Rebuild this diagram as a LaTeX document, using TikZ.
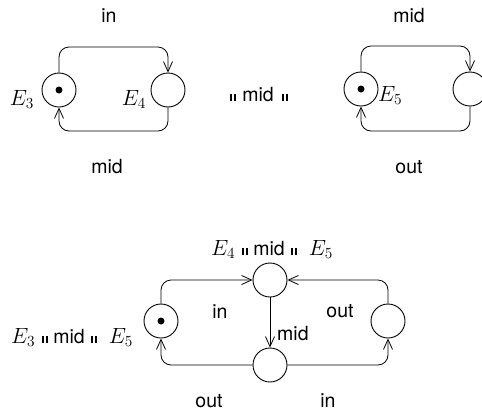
\RequirePackage{fix-cm}
\documentclass[tikz,border=0pt]{standalone}
\usepackage{fontspec}
\setmainfont{TeX Gyre Heros}
\usetikzlibrary{arrows.meta}
\newcommand\pbar{\rule{1.9pt}{7pt}\hspace{2.4pt}\rule{1.9pt}{7pt}}
\newcommand\Ename[1]{{\fontsize{22}{24}\selectfont$E_{#1}$}}
\tikzset{
  st/.style={circle,draw,line width=0.9pt,minimum size=34pt,inner sep=0pt},
  tok/.style={circle,fill,minimum size=7pt,inner sep=0pt},
  lbl/.style={font=\fontsize{19.5}{22}\selectfont,inner sep=0pt,anchor=base},
  edge/.style={line width=0.8pt,rounded corners=10pt,-{Straight Barb[length=10pt,width=9pt,line width=0.8pt]}},
  tedge/.style={line width=0.8pt,-{Straight Barb[length=10pt,width=9pt,line width=0.8pt]}}
}
\begin{document}
\begin{tikzpicture}[x=1pt,y=-1pt]
\useasboundingbox (0,0) rectangle (482,413);
% top left net
\node[st] (e3) at (59,90) {};
\node[tok] (t3) at (59,90) {};
\node[st] (e4) at (168,90) {};
\coordinate (c1) at (110,47);
\coordinate (c2) at (110,131);
\draw[edge] (e3.north) |- (c1) -| (e4.north);
\draw[edge] (e4.south) |- (c2) -| (e3.south);
\node[lbl] (l1) at (109,22) {in};
\node[lbl] (l2) at (107,173) {mid};
\node[lbl,anchor=base east] (l3) at (34,105) {\Ename{3}};
\node[lbl,anchor=base east] (l4) at (146,105) {\Ename{4}};
% operator
\node[lbl] (op) at (259,101) {\pbar\hspace{6pt}mid\hspace{8pt}\pbar};
% top right net
\node[st] (e5) at (361,89) {};
\node[tok] (t5) at (361,89) {};
\node[st] (e6) at (470,89) {};
\coordinate (c3) at (415,46);
\coordinate (c4) at (415,131);
\draw[edge] (e5.north) |- (c3) -| (e6.north);
\draw[edge] (e6.south) |- (c4) -| (e5.south);
\node[lbl] (l5) at (409,22) {mid};
\node[lbl] (l6) at (409,173) {out};
\node[lbl,anchor=base west] (l7) at (378,101) {\Ename{5}};
% bottom net
\node[st] (b1) at (161,321) {};
\node[tok] (tb) at (161,321) {};
\node[st] (b2) at (270,280) {};
\node[st] (b3) at (270,365) {};
\node[st] (b4) at (388,321) {};
\draw[edge] (b1.north) |- (b2.west);
\draw[edge] (b4.north) |- (b2.east);
\draw[tedge] (b2.south) -- (b3.north);
\draw[edge] (b3.west) -| (b1.south);
\draw[edge] (b3.east) -| (b4.south);
\node[lbl] (m1) at (220,318) {in};
\node[lbl] (m2) at (340,317) {out};
\node[lbl,anchor=base west] (m3) at (277,340) {mid};
\node[lbl] (m4) at (209,407) {out};
\node[lbl] (m5) at (328,407) {in};
\node[lbl] (m6) at (272,255) {\Ename{4}\hspace{7pt}\pbar\hspace{5pt}mid\hspace{6pt}\pbar\hspace{12pt}\Ename{5}};
\node[lbl] (m7) at (72,343) {\Ename{3}\hspace{7pt}\pbar\hspace{5pt}mid\hspace{6pt}\pbar\hspace{12pt}\Ename{5}};
\end{tikzpicture}
\end{document}
